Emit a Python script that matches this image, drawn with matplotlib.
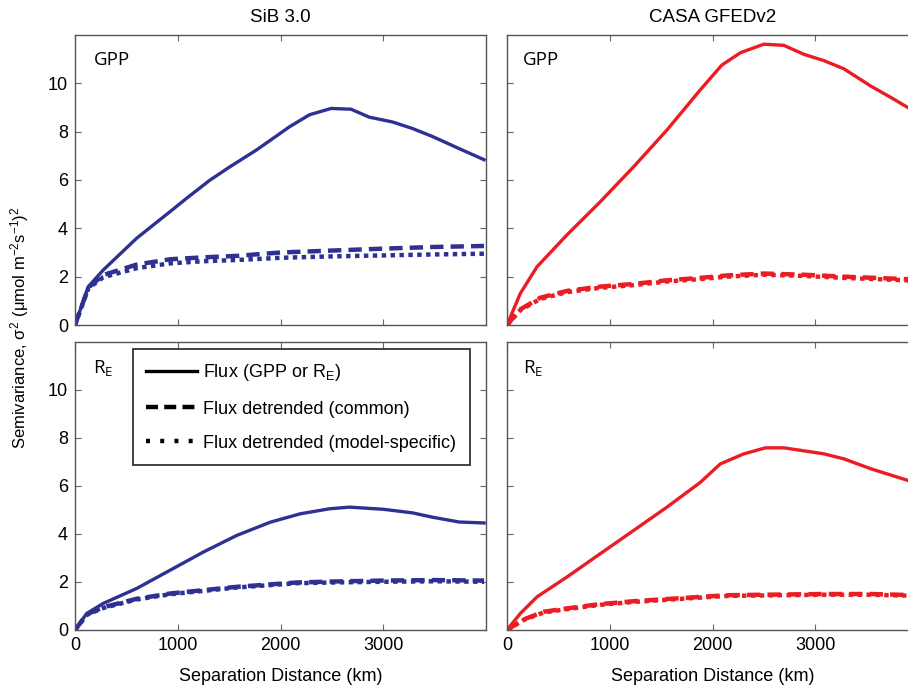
import matplotlib
matplotlib.use("Agg")
import matplotlib.pyplot as plt
from matplotlib.lines import Line2D

plt.rcParams['font.family'] = ['Liberation Sans', 'DejaVu Sans']
plt.rcParams['mathtext.fontset'] = 'custom'
plt.rcParams['mathtext.rm'] = 'Liberation Sans'
plt.rcParams['mathtext.it'] = 'Liberation Sans'

BLUE = '#2E3192'
RED = '#EC1C24'

# ---- SiB 3.0 ----
sib_gpp_x = [0, 130, 276, 600, 925, 1088, 1315, 1509, 1769, 1893, 2087, 2282, 2492, 2686, 2864, 3091, 3285, 3479, 3738, 3981]
sib_gpp_flux = [0, 1.59, 2.28, 3.59, 4.69, 5.25, 6.0, 6.55, 7.25, 7.62, 8.2, 8.7, 8.96, 8.93, 8.6, 8.4, 8.13, 7.8, 7.3, 6.84]
sib_gpp_x2 = [0, 130, 276, 600, 925, 1250, 1575, 2000, 2500, 3000, 3500, 3981]
sib_gpp_common = [0, 1.55, 2.07, 2.5, 2.72, 2.8, 2.86, 3.0, 3.08, 3.16, 3.23, 3.27]
sib_gpp_specific = [0, 1.52, 1.98, 2.35, 2.55, 2.64, 2.69, 2.78, 2.84, 2.88, 2.92, 2.95]

sib_re_x = [0, 114, 276, 600, 925, 1250, 1574, 1899, 2191, 2476, 2670, 3000, 3285, 3479, 3738, 3981]
sib_re_flux = [0, 0.69, 1.11, 1.73, 2.49, 3.25, 3.94, 4.49, 4.84, 5.05, 5.12, 5.03, 4.88, 4.7, 4.5, 4.46]
sib_re_x2 = [0, 114, 276, 600, 925, 1250, 1574, 1899, 2160, 2508, 3000, 3500, 3981]
sib_re_common = [0, 0.65, 0.95, 1.3, 1.52, 1.66, 1.8, 1.9, 1.98, 2.02, 2.06, 2.08, 2.06]
sib_re_specific = [0, 0.63, 0.92, 1.27, 1.49, 1.63, 1.77, 1.87, 1.95, 1.98, 2.01, 2.03, 2.01]

# ---- CASA GFEDv2 ----
casa_gpp_x = [0, 130, 292, 584, 908, 1233, 1557, 1881, 2092, 2273, 2500, 2695, 2890, 3084, 3279, 3539, 3734, 4000]
casa_gpp_flux = [0, 1.31, 2.41, 3.73, 5.1, 6.55, 8.07, 9.73, 10.76, 11.27, 11.62, 11.57, 11.2, 10.94, 10.6, 9.89, 9.42, 8.75]
casa_gpp_x2 = [0, 130, 325, 584, 908, 1233, 1557, 1881, 2140, 2500, 2890, 3279, 4000]
casa_gpp_common = [0, 0.65, 1.13, 1.41, 1.59, 1.7, 1.85, 1.95, 2.05, 2.13, 2.08, 2.0, 1.88]
casa_gpp_specific = [0, 0.62, 1.08, 1.36, 1.54, 1.65, 1.8, 1.9, 2.0, 2.08, 2.03, 1.95, 1.83]

casa_re_x = [0, 130, 292, 584, 908, 1233, 1557, 1881, 2076, 2305, 2516, 2695, 3084, 3279, 3539, 4000]
casa_re_flux = [0, 0.69, 1.38, 2.21, 3.18, 4.15, 5.12, 6.15, 6.92, 7.34, 7.59, 7.59, 7.34, 7.13, 6.72, 6.1]
casa_re_x2 = [0, 162, 357, 584, 908, 1233, 1557, 1881, 2140, 2516, 3084, 3539, 4000]
casa_re_common = [0, 0.44, 0.76, 0.9, 1.08, 1.2, 1.29, 1.38, 1.45, 1.47, 1.5, 1.5, 1.45]
casa_re_specific = [0, 0.42, 0.73, 0.87, 1.05, 1.17, 1.26, 1.35, 1.42, 1.44, 1.47, 1.47, 1.42]

col_titles = ['SiB 3.0', 'CASA GFEDv2']
row_labels = ['GPP', r'R$_\mathregular{E}$']
x_ticks = [0, 1000, 2000, 3000]
y_ticks = [0, 2, 4, 6, 8, 10]

panels = [
    [(sib_gpp_x, sib_gpp_flux, sib_gpp_x2, sib_gpp_common, sib_gpp_specific, BLUE),
     (casa_gpp_x, casa_gpp_flux, casa_gpp_x2, casa_gpp_common, casa_gpp_specific, RED)],
    [(sib_re_x, sib_re_flux, sib_re_x2, sib_re_common, sib_re_specific, BLUE),
     (casa_re_x, casa_re_flux, casa_re_x2, casa_re_common, casa_re_specific, RED)],
]

fig = plt.figure(figsize=(9.08, 6.88), dpi=100)
W, H = 908, 688
lefts = [75, 507]
tops = [35, 342]
bottoms = [325, 630]
width_px = 411

for r in range(2):
    for c in range(2):
        ax = fig.add_axes([lefts[c] / W, 1 - bottoms[r] / H, width_px / W, (bottoms[r] - tops[r]) / H])
        x, f, x2, cm, sp, col = panels[r][c]
        ax.plot(x2, sp, color=col, lw=3.2, linestyle=(0, (1.0, 1.0)), dash_capstyle='butt')
        ax.plot(x2, cm, color=col, lw=3.2, linestyle=(0, (3.0, 1.6)), dash_capstyle='butt')
        ax.plot(x, f, color=col, lw=2.4, solid_joinstyle='round')
        ax.set_xlim(0, 4000)
        ax.set_ylim(0, 12)
        ax.set_xticks(x_ticks)
        ax.set_yticks(y_ticks)
        ax.tick_params(direction='in', top=True, right=True, length=4, width=0.8,
                       color='#666666', labelsize=13, pad=5)
        for s in ax.spines.values():
            s.set_color('#555555')
            s.set_linewidth(1.0)
        if c == 1:
            ax.set_yticklabels([])
        if r == 0:
            ax.set_xticklabels([])
            ax.set_title(col_titles[c], fontsize=13.5, pad=9)
        else:
            ax.set_xlabel('Separation Distance (km)', fontsize=13, labelpad=10)
        ax.text(0.045 if c == 0 else 0.038, 0.945, row_labels[r], transform=ax.transAxes,
                fontsize=13.5, va='top', ha='left', family=['Open Sans', 'DejaVu Sans'])
        if r == 1 and c == 0:
            handles = [
                Line2D([], [], color='black', lw=2.4),
                Line2D([], [], color='black', lw=3.2, linestyle=(0, (2.7, 1.4))),
                Line2D([], [], color='black', lw=3.2, linestyle=(0, (0.9, 2.3))),
            ]
            labels = [r'Flux (GPP or R$_\mathregular{E}$)', 'Flux detrended (common)',
                      'Flux detrended (model-specific)']
            leg = ax.legend(handles, labels, loc='upper left', bbox_to_anchor=(0.141, 0.976),
                            fontsize=13, frameon=True, fancybox=False, edgecolor='black',
                            handlelength=2.8, handletextpad=0.35, borderpad=0.75,
                            labelspacing=0.95, borderaxespad=0)
            leg.get_frame().set_linewidth(1.3)

fig.text(0.022, 1 - 328 / H, r'Semivariance, $\sigma^2$ ($\mu$mol m$^{-2}$s$^{-1}$)$^2$',
         rotation=90, va='center', ha='center', fontsize=12)

fig.savefig('out.png', dpi=100)
